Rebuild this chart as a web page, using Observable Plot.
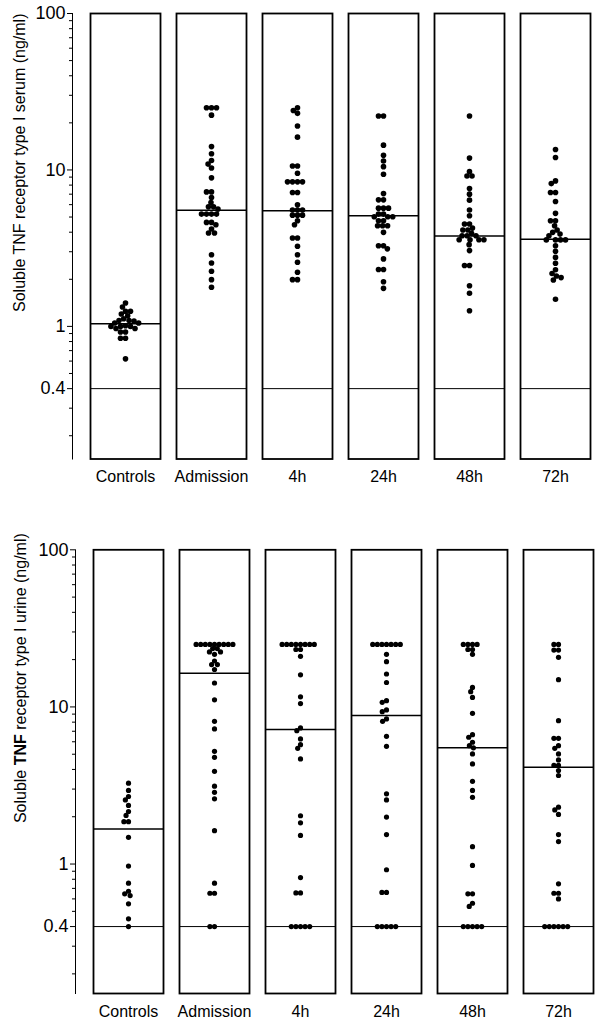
<!DOCTYPE html>
<html><head><meta charset="utf-8">
<script src="https://cdn.jsdelivr.net/npm/d3@7"></script>
<script src="https://cdn.jsdelivr.net/npm/@observablehq/plot@0.6"></script>
<style>
html,body{margin:0;padding:0;background:#fff;}
#chart svg{display:block;}
</style></head><body><div id="chart"></div>
<script>
const categories = ["Controls", "Admission", "4h", "24h", "48h", "72h"];
const majorTicks = [100, 10, 1, 0.4];
const minorTicks = [90, 80, 70, 60, 50, 40, 30, 20, 9, 8, 7, 6, 5, 4, 3, 2, 0.9, 0.8, 0.7, 0.6, 0.5, 0.3, 0.2];
const detectionLimit = 0.4;

// Serum (ng/ml)
const serumControls = [1.41, 1.33, 1.25, 1.25, 1.20, 1.17, 1.12, 1.09, 1.09, 1.08, 1.05, 1.05, 1.01, 1.0, 1.0, 1.0, 0.97, 0.97, 0.92, 0.92, 0.84, 0.84, 0.62];
const serumAdmission = [25, 25, 25, 22.4, 14.1, 12.7, 11.5, 10.9, 10.3, 8.9, 7.24, 7.24, 6.66, 6.19, 5.81, 5.81, 5.62, 5.22, 5.22, 5.22, 5.22, 4.62, 4.62, 4.46, 4.19, 3.95, 3.95, 2.87, 2.54, 2.25, 1.99, 1.78];
const serum4h = [25, 24, 23, 19.1, 16.2, 10.6, 10.6, 9.53, 8.39, 8.39, 8.39, 8.39, 7.17, 7.17, 5.98, 5.54, 5.54, 5.54, 5.14, 5.14, 5.14, 4.73, 4.46, 3.67, 3.67, 3.25, 2.87, 2.57, 2.22, 1.99, 1.99];
const serum24h = [22.1, 22.1, 14.4, 12.4, 11.4, 10.5, 9.39, 7.06, 6.44, 6.44, 5.70, 5.70, 5.70, 5.22, 5.22, 5.02, 5.02, 5.02, 4.73, 4.73, 4.40, 4.40, 4.40, 3.99, 3.28, 3.28, 3.13, 2.70, 2.31, 2.31, 1.93, 1.75];
const serum48h = [22.1, 11.9, 9.75, 9.15, 9.15, 7.60, 7.0, 6.41, 5.54, 5.09, 4.51, 4.51, 4.25, 4.13, 4.13, 3.93, 3.80, 3.80, 3.80, 3.58, 3.58, 3.58, 3.58, 3.33, 3.05, 2.45, 2.45, 1.82, 1.63, 1.26];
const serum72h = [13.5, 12.0, 8.51, 8.18, 7.17, 7.17, 6.28, 5.28, 4.73, 4.73, 4.40, 4.13, 3.99, 3.89, 3.80, 3.57, 3.57, 3.57, 3.57, 3.28, 3.02, 2.76, 2.53, 2.30, 2.18, 2.10, 2.05, 1.98, 1.49];
const serumMedians = [1.04, 5.53, 5.48, 5.09, 3.78, 3.60];

// Urine (ng/ml)
const urineControls = [3.27, 2.94, 2.69, 2.56, 2.36, 2.16, 2.04, 1.86, 1.86, 1.48, 0.97, 0.755, 0.671, 0.646, 0.63, 0.558, 0.448, 0.4];
const urineAdmission = [25, 25, 25, 25, 25, 25, 25, 25, 25, 23.5, 23.5, 22.4, 22.4, 21.6, 19.6, 18.6, 18.6, 17.3, 14.2, 11.1, 8.1, 7.24, 5.22, 4.78, 3.89, 3.13, 2.86, 2.60, 1.63, 0.755, 0.652, 0.652, 0.4, 0.4];
const urine4h = [25, 25, 25, 25, 25, 25, 25, 25, 23.2, 23.2, 21.0, 16.0, 11.6, 10.5, 7.35, 7.06, 6.26, 5.75, 5.45, 4.67, 2.03, 1.83, 1.52, 0.82, 0.655, 0.655, 0.4, 0.4, 0.4, 0.4, 0.4];
const urine24h = [25, 25, 25, 25, 25, 25, 25, 21.6, 19.4, 16.2, 14.3, 10.96, 10.7, 9.57, 9.33, 8.39, 8.1, 6.5, 5.61, 2.8, 2.56, 1.99, 1.54, 0.92, 0.66, 0.66, 0.4, 0.4, 0.4, 0.4, 0.4];
const urine48h = [25, 25, 25, 25, 23.2, 23.2, 21.6, 13.3, 12.5, 11.5, 9.1, 6.66, 6.41, 5.96, 5.67, 5.49, 5.02, 4.34, 3.36, 2.94, 2.66, 1.29, 0.98, 0.646, 0.646, 0.563, 0.537, 0.4, 0.4, 0.4, 0.4, 0.4];
const urine72h = [25, 25, 23.0, 23.0, 20.7, 14.9, 8.18, 6.31, 6.31, 5.67, 5.45, 5.02, 4.60, 4.24, 4.24, 3.94, 3.66, 2.30, 2.21, 2.07, 1.54, 1.39, 0.748, 0.652, 0.652, 0.60, 0.4, 0.4, 0.4, 0.4, 0.4, 0.4];
const urineMedians = [1.67, 16.4, 7.17, 8.81, 5.49, 4.13];

const serumLabel = "Soluble TNF receptor type I serum (ng/ml)";
const urineLabel = "Soluble TNF receptor type I urine (ng/ml)";

function rowsOf(groups) {
  return groups.flatMap((vals, i) => vals.map(v => ({category: categories[i], value: v})));
}
function medianRowsOf(meds) {
  return meds.map((m, i) => ({category: categories[i], median: m}));
}

function panel({groups, medians, label, boldTNF, domain, height, marginTop, marginBottom, marginLeft, marginRight, r, pad, labelDy}) {
  const rows = rowsOf(groups);
  const axisDx = -18;
  const svg = Plot.plot({
    width: 605,
    height, marginTop, marginBottom, marginLeft, marginRight,
    style: {fontFamily: "'Liberation Sans', Arial, Helvetica, sans-serif", fontSize: "16px", color: "black", background: "white", overflow: "visible"},
    fx: {domain: categories, paddingInner: 0.182, paddingOuter: 0, label: null, tickSize: 0, tickPadding: 12},
    y: {type: "log", domain, axis: null},
    marks: [
      Plot.frame({stroke: "black", strokeWidth: 1.8}),
      Plot.ruleY([detectionLimit], {stroke: "black", strokeWidth: 1}),
      Plot.ruleY(medianRowsOf(medians), {fx: "category", y: "median", stroke: "black", strokeWidth: 1.5}),
      Plot.dot(rows, Plot.dodgeX({anchor: "middle", padding: pad, r}, {fx: "category", y: "value", r, fill: "black", stroke: "none"})),
      Plot.frame({anchor: "left", facetAnchor: "left", dx: axisDx, stroke: "black", strokeWidth: 1}),
      Plot.axisY(minorTicks, {anchor: "left", dx: axisDx, tickSize: 3, fill: null, label: null}),
      Plot.axisY(majorTicks, {anchor: "left", dx: axisDx, tickSize: 5, tickPadding: 2, fontSize: 18, label: null, tickFormat: d => String(d)}),
      Plot.text([label], {frameAnchor: "top-left", facetAnchor: "left", rotate: -90, textAnchor: "end", dx: 11 - marginLeft, dy: labelDy, fontSize: 16, fill: "black"})
    ]
  });
  if (boldTNF) {
    svg.querySelectorAll("text").forEach(t => {
      if (t.textContent === label) {
        const parts = label.split("TNF");
        t.textContent = "";
        const ns = "http://www.w3.org/2000/svg";
        const a = document.createElementNS(ns, "tspan"); a.textContent = parts[0];
        const b = document.createElementNS(ns, "tspan"); b.textContent = "TNF"; b.setAttribute("font-weight", "bold");
        const c = document.createElementNS(ns, "tspan"); c.textContent = parts[1];
        t.append(a, b, c);
      }
    });
  }
  return svg;
}

const serumPanel = panel({
  groups: [serumControls, serumAdmission, serum4h, serum24h, serum48h, serum72h],
  medians: serumMedians, label: serumLabel, boldTNF: false,
  domain: [0.142, 100], height: 500, marginTop: 13, marginBottom: 41.5, marginLeft: 88, marginRight: 12, r: 2.8, pad: -0.6, labelDy: 0
});
const urinePanel = panel({
  groups: [urineControls, urineAdmission, urine4h, urine24h, urine48h, urine72h],
  medians: urineMedians, label: urineLabel, boldTNF: true,
  domain: [0.15, 100], height: 525, marginTop: 49.3, marginBottom: 32, marginLeft: 90, marginRight: 9, r: 2.6, pad: -0.6, labelDy: -16.6
});
document.getElementById("chart").append(serumPanel, urinePanel);
</script></body></html>
